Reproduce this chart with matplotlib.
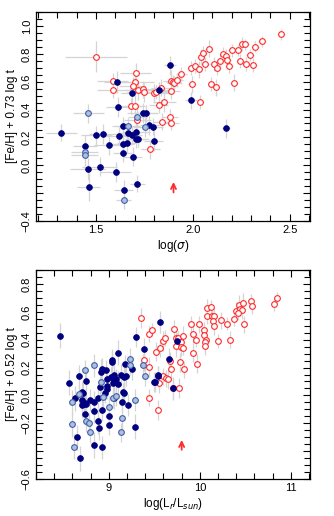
import matplotlib
matplotlib.use("Agg")
import matplotlib.pyplot as plt
import numpy as np
from matplotlib.ticker import MultipleLocator, FixedLocator

plt.rcParams['font.family'] = ['Liberation Sans', 'DejaVu Sans']

# ---- top panel: log(sigma) vs [Fe/H] + 0.73 log t ----
# red open circles: x, y, xerr, yerr
top_red_x = [1.50, 1.585, 1.585, 1.70, 1.704, 1.69, 1.716, 1.74, 1.749, 1.682, 1.703, 1.80, 1.81,
             1.833, 1.823, 1.852, 1.885, 1.888, 1.90, 1.905, 1.92, 1.941, 1.988, 2.012, 2.031, 1.996,
             2.039, 2.044, 2.053, 2.082, 2.065, 2.11, 2.127, 2.096, 2.12, 2.142, 2.156, 2.17, 2.175,
             2.187, 2.204, 2.213, 2.234, 2.242, 2.256, 2.27, 2.273, 2.297, 2.312, 2.323, 2.359, 2.455,
             1.881, 1.888, 1.842, 1.714, 1.78]
top_red_y = [0.78, 0.604, 0.54, 0.60, 0.662, 0.571, 0.538, 0.545, 0.523, 0.425, 0.425, 0.516, 0.523,
             0.556, 0.432, 0.452, 0.533, 0.604, 0.60, 0.588, 0.612, 0.657, 0.695, 0.714, 0.688, 0.58,
             0.451, 0.778, 0.807, 0.836, 0.724, 0.724, 0.695, 0.585, 0.559, 0.748, 0.796, 0.787, 0.755,
             0.71, 0.824, 0.592, 0.824, 0.748, 0.87, 0.867, 0.728, 0.791, 0.719, 0.85, 0.889, 0.939,
             0.344, 0.305, 0.313, 0.325, 0.115]
top_red_xe = [0.16, 0.08, 0.08, 0.10, 0.08, 0.07, 0.06, 0.07, 0.09, 0.06, 0.05, 0.08, 0.06,
              0.05, 0.05, 0.06, 0.05, 0.04, 0.04, 0.04, 0.03, 0.03, 0.02, 0.02, 0.02, 0.02,
              0.02, 0.02, 0.02, 0.02, 0.02, 0.02, 0.02, 0.02, 0.02, 0.02, 0.02, 0.02, 0.02,
              0.02, 0.02, 0.02, 0.02, 0.02, 0.02, 0.02, 0.02, 0.02, 0.02, 0.02, 0.02, 0.02,
              0.04, 0.04, 0.05, 0.07, 0.05]
top_red_ye = [0.11, 0.06, 0.06, 0.08, 0.07, 0.06, 0.07, 0.06, 0.07, 0.06, 0.08, 0.07, 0.05,
              0.06, 0.06, 0.07, 0.06, 0.08, 0.05, 0.05, 0.05, 0.05, 0.05, 0.05, 0.06, 0.06,
              0.05, 0.06, 0.05, 0.06, 0.05, 0.05, 0.05, 0.05, 0.06, 0.04, 0.05, 0.05, 0.05,
              0.05, 0.05, 0.06, 0.04, 0.05, 0.05, 0.04, 0.05, 0.04, 0.05, 0.04, 0.04, 0.04,
              0.06, 0.05, 0.06, 0.06, 0.07]

top_blue_x = [1.61, 1.613, 1.687, 1.881, 1.826, 1.991, 1.742, 1.757, 2.17, 1.32, 1.50, 1.536, 1.443,
              1.569, 1.619, 1.64, 1.666, 1.688, 1.708, 1.708, 1.716, 1.637, 1.66, 1.638, 1.689, 1.776,
              1.794, 1.797, 1.457, 1.519, 1.601, 1.462, 1.713, 1.642]
top_blue_y = [0.597, 0.418, 0.518, 0.717, 0.538, 0.466, 0.375, 0.373, 0.265, 0.234, 0.215, 0.224, 0.138,
              0.147, 0.212, 0.28, 0.229, 0.216, 0.24, 0.186, 0.19, 0.15, 0.158, 0.086, 0.062, 0.287,
              0.276, 0.175, -0.027, -0.01, -0.048, -0.156, -0.132, -0.175]
top_blue_xe = [0.07, 0.06, 0.06, 0.03, 0.05, 0.03, 0.08, 0.06, 0.02, 0.08, 0.08, 0.07, 0.06,
               0.08, 0.07, 0.06, 0.06, 0.05, 0.07, 0.06, 0.06, 0.06, 0.05, 0.05, 0.05, 0.05,
               0.05, 0.05, 0.09, 0.09, 0.08, 0.06, 0.04, 0.05]
top_blue_ye = [0.08, 0.07, 0.07, 0.07, 0.06, 0.06, 0.07, 0.06, 0.07, 0.06, 0.07, 0.07, 0.08,
               0.07, 0.06, 0.07, 0.07, 0.06, 0.07, 0.06, 0.06, 0.08, 0.07, 0.06, 0.07, 0.07,
               0.06, 0.07, 0.08, 0.07, 0.07, 0.10, 0.06, 0.07]

top_lb_x = [1.46, 1.714, 1.667, 1.752, 1.441, 1.441, 1.642]
top_lb_y = [0.373, 0.349, 0.28, 0.272, 0.098, 0.072, -0.251]
top_lb_xe = [0.08, 0.05, 0.06, 0.06, 0.07, 0.07, 0.04]
top_lb_ye = [0.07, 0.07, 0.06, 0.07, 0.07, 0.08, 0.06]

# ---- bottom panel: log(Lr/Lsun) vs [Fe/H] + 0.52 log t ----
bot_red_x = [9.35, 9.44, 9.47, 9.52, 9.56, 9.59, 9.62, 9.39, 9.44, 9.72, 9.74, 9.74, 9.76, 9.79,
             9.79, 9.82, 9.81, 9.78, 9.83, 9.68, 9.67, 9.90, 9.93, 9.92, 9.96, 9.99, 9.97, 10.05,
             10.05, 10.07, 10.06, 10.06, 10.08, 10.08, 10.12, 10.13, 10.16, 10.14, 10.16, 10.20,
             10.23, 10.30, 10.33, 10.37, 10.40, 10.43, 10.44, 10.46, 10.42, 10.48, 10.47, 10.56,
             10.57, 10.82, 10.85, 9.55, 9.60, 9.63, 9.65, 9.70, 9.77, 9.44, 9.54]
bot_red_y = [0.556, 0.44, 0.473, 0.315, 0.337, 0.391, 0.413, 0.253, 0.205, 0.48, 0.413, 0.353, 0.415, 0.384,
             0.344, 0.339, 0.425, 0.237, 0.186, 0.19, 0.25, 0.511, 0.444, 0.308, 0.401, 0.509, 0.229, 0.468,
             0.437, 0.396, 0.38, 0.353, 0.624, 0.573, 0.635, 0.57, 0.567, 0.535, 0.497, 0.391,
             0.54, 0.516, 0.401, 0.545, 0.607, 0.652, 0.62, 0.61, 0.59, 0.511, 0.664, 0.676,
             0.642, 0.654, 0.70, 0.086, 0.138, 0.122, 0.115, 0.05, 0.052, -0.015, -0.105]
bot_red_ye = [0.07, 0.06, 0.05, 0.07, 0.06, 0.07, 0.06, 0.08, 0.07, 0.06, 0.07, 0.08, 0.05, 0.06,
              0.06, 0.05, 0.07, 0.07, 0.06, 0.08, 0.06, 0.06, 0.07, 0.07, 0.05, 0.06, 0.07, 0.06,
              0.05, 0.06, 0.07, 0.06, 0.07, 0.06, 0.05, 0.07, 0.06, 0.05, 0.06, 0.05,
              0.06, 0.05, 0.06, 0.05, 0.06, 0.07, 0.05, 0.06, 0.05, 0.06, 0.07, 0.05,
              0.06, 0.05, 0.04, 0.07, 0.06, 0.06, 0.07, 0.08, 0.07, 0.06, 0.07]

bot_blue_x = [8.465, 9.56, 9.30, 9.385, 9.10, 9.03, 9.03, 8.93, 8.97, 8.91, 9.18, 9.25, 8.67, 8.745,
              8.56, 8.98, 9.06, 9.165, 9.19, 9.545, 9.50, 9.66, 9.75, 9.71, 8.985, 8.985, 8.90, 8.96,
              9.05, 9.08, 9.10, 9.13, 9.157, 9.17, 9.14, 9.21, 9.29, 9.0, 9.0, 9.06, 8.626, 8.71,
              8.72, 8.71, 8.74, 8.75, 8.73, 8.70, 8.795, 8.736, 8.65, 8.68, 8.84, 8.876, 8.84,
              8.92, 8.88, 8.89, 8.84, 8.92, 9.51, 9.54, 9.06, 9.02]
bot_blue_y = [0.43, 0.525, 0.418, 0.33, 0.306, 0.253, 0.239, 0.186, 0.181, 0.169, 0.222, 0.19, 0.141, 0.103,
              0.09, 0.115, 0.146, 0.133, 0.138, 0.148, 0.098, 0.262, 0.387, 0.05, 0.069, 0.046, 0.057, 0.014,
              0.09, 0.12, 0.085, 0.145, 0.021, 0.02, -0.05, -0.067, -0.225, -0.148, -0.215, -0.017, -0.022, 0.026,
              0.02, -0.034, -0.055, -0.06, -0.065, -0.07, -0.034, -0.13, -0.30, -0.45, -0.046, -0.017, -0.115,
              -0.105, -0.187, -0.237, -0.356, -0.373, 0.095, 0.138, 0.105, 0.135]
bot_blue_ye = [0.09, 0.08, 0.07, 0.08, 0.09, 0.08, 0.07, 0.08, 0.07, 0.09, 0.07, 0.08, 0.08, 0.07,
               0.09, 0.08, 0.07, 0.08, 0.07, 0.06, 0.07, 0.08, 0.06, 0.07, 0.08, 0.07, 0.08, 0.07,
               0.08, 0.07, 0.09, 0.08, 0.07, 0.08, 0.07, 0.08, 0.09, 0.08, 0.07, 0.08, 0.09, 0.08,
               0.07, 0.08, 0.09, 0.08, 0.07, 0.09, 0.08, 0.08, 0.09, 0.09, 0.08, 0.07, 0.08,
               0.08, 0.09, 0.08, 0.09, 0.08, 0.07, 0.07, 0.08, 0.07]

bot_lb_x = [9.23, 9.23, 8.84, 8.74, 8.91, 9.37, 9.40, 8.667, 8.60, 8.59, 8.747, 8.783, 8.79, 8.617,
            8.94, 9.04, 9.0, 9.08, 9.14, 9.135, 9.29]
bot_lb_y = [0.262, 0.22, 0.215, 0.181, 0.098, 0.22, 0.138, 0.009, -0.05, -0.206, -0.182, -0.196, -0.26, -0.368,
            -0.01, -0.022, -0.082, -0.005, -0.165, -0.265, -0.034]
bot_lb_ye = [0.08, 0.07, 0.08, 0.07, 0.08, 0.08, 0.07, 0.08, 0.09, 0.09, 0.08, 0.07, 0.08, 0.09,
             0.08, 0.07, 0.08, 0.07, 0.08, 0.07, 0.08]

NAVY = '#000080'
LB_FACE = '#aebfe0'
LB_EDGE = '#4060a8'
RED = '#ff2a2a'
ERR = '#d4d4d4'


def draw(ax, rx, ry, rxe, rye, bx, by, bxe, bye, lx, ly, lxe, lye):
    for x, y, xe, ye in [(rx, ry, rxe, rye), (bx, by, bxe, bye), (lx, ly, lxe, lye)]:
        ax.errorbar(x, y, xerr=xe, yerr=ye, fmt='none', ecolor=ERR, elinewidth=0.9,
                    capsize=0, zorder=1)
    ax.plot(rx, ry, 'o', ms=4.1, mfc='white', mec=RED, mew=0.8, zorder=3)
    ax.plot(bx, by, 'o', ms=4.1, mfc=NAVY, mec=NAVY, mew=0.6, zorder=4)
    ax.plot(lx, ly, 'o', ms=4.1, mfc=LB_FACE, mec=LB_EDGE, mew=0.8, zorder=4)


def style(ax):
    ax.tick_params(which='both', direction='in', top=True, right=True, labelsize=8,
                   width=0.8, pad=3)
    ax.tick_params(which='major', length=5)
    ax.tick_params(which='minor', length=4)
    for lab in ax.get_yticklabels():
        lab.set_rotation(90)
        lab.set_va('center')
    for s in ax.spines.values():
        s.set_linewidth(0.9)


fig = plt.figure(figsize=(3.34, 5.16), dpi=100)

ax1 = fig.add_axes([0.108, 0.5717, 0.82, 0.405])
draw(ax1, top_red_x, top_red_y, top_red_xe, top_red_ye,
     top_blue_x, top_blue_y, top_blue_xe, top_blue_ye,
     top_lb_x, top_lb_y, top_lb_xe, top_lb_ye)
ax1.set_xlim(1.19, 2.605)
ax1.set_ylim(-0.4, 1.1)
ax1.xaxis.set_major_locator(FixedLocator([1.5, 2.0, 2.5]))
ax1.xaxis.set_minor_locator(MultipleLocator(0.1))
ax1.set_yticks([-0.4, -0.2, 0.0, 0.2, 0.4, 0.6, 0.8, 1.0])
ax1.set_yticklabels(['\u22120.4', '', '0.0', '0.2', '0.4', '0.6', '0.8', '1.0'])
ax1.yaxis.set_minor_locator(MultipleLocator(0.05))
ax1.set_xlabel(r'log($\sigma$)', fontsize=8.5, labelpad=2)
ax1.set_ylabel('[Fe/H] + 0.73 log t', fontsize=8.5, labelpad=3)
ax1.annotate('', xy=(1.9, -0.10), xytext=(1.9, -0.215),
             arrowprops=dict(arrowstyle='->', color=RED, lw=1.3, mutation_scale=9))
style(ax1)

ax2 = fig.add_axes([0.108, 0.0717, 0.82, 0.405])
draw(ax2, bot_red_x, bot_red_y, [0] * len(bot_red_x), bot_red_ye,
     bot_blue_x, bot_blue_y, [0] * len(bot_blue_x), bot_blue_ye,
     bot_lb_x, bot_lb_y, [0] * len(bot_lb_x), bot_lb_ye)
ax2.set_xlim(8.2, 11.21)
ax2.set_ylim(-0.6, 0.9)
ax2.xaxis.set_major_locator(FixedLocator([9, 10, 11]))
ax2.xaxis.set_minor_locator(MultipleLocator(0.2))
ax2.set_yticks([-0.6, -0.4, -0.2, 0.0, 0.2, 0.4, 0.6, 0.8])
ax2.set_yticklabels(['\u22120.6', '', '\u22120.2', '0.0', '0.2', '0.4', '0.6', '0.8'])
ax2.yaxis.set_minor_locator(MultipleLocator(0.05))
ax2.set_xlabel(r'log(L$_r$/L$_{sun}$)', fontsize=8.5, labelpad=2)
ax2.set_ylabel('[Fe/H] + 0.52 log t', fontsize=8.5, labelpad=3)
ax2.annotate('', xy=(9.8, -0.30), xytext=(9.8, -0.41),
             arrowprops=dict(arrowstyle='->', color=RED, lw=1.3, mutation_scale=9))
style(ax2)

fig.savefig('out.png', dpi=100)
